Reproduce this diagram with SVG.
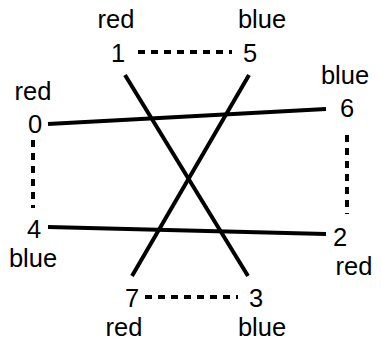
<svg xmlns="http://www.w3.org/2000/svg" width="381" height="341" viewBox="0 0 381 341">
<style>
text{font-family:"Liberation Sans",Arial,sans-serif;font-size:25.5px;fill:#000;text-anchor:middle}
.s{stroke:#000;stroke-width:4;fill:none}
.d{stroke:#000;stroke-width:4;fill:none;stroke-dasharray:7 6}
</style>
<rect width="381" height="341" fill="#fff"/>
<g id="connectors">
<line class="s" x1="48" y1="124" x2="326" y2="109"/>
<line class="s" x1="48" y1="227" x2="326" y2="234"/>
<line class="s" x1="125" y1="75" x2="248" y2="276"/>
<line class="s" x1="249" y1="75" x2="132" y2="276"/>
<line class="d" x1="138" y1="52" x2="232" y2="52"/>
<line class="d" x1="145" y1="297" x2="238" y2="297"/>
<line class="d" x1="33" y1="140" x2="33" y2="208"/>
<line class="d" x1="347" y1="135" x2="347" y2="214"/>
</g>
<g id="n0"><text x="33" y="100">red</text><text x="35" y="133">0</text></g>
<g id="n1"><text x="116" y="28">red</text><text x="118" y="62">1</text></g>
<g id="n5"><text x="262" y="28">blue</text><text x="250" y="62">5</text></g>
<g id="n6"><text x="345" y="84">blue</text><text x="347" y="117">6</text></g>
<g id="n4"><text x="34" y="238">4</text><text x="33" y="267">blue</text></g>
<g id="n2"><text x="340" y="246">2</text><text x="354" y="275">red</text></g>
<g id="n7"><text x="132" y="307">7</text><text x="124" y="336">red</text></g>
<g id="n3"><text x="256" y="307">3</text><text x="262" y="336">blue</text></g>
</svg>
